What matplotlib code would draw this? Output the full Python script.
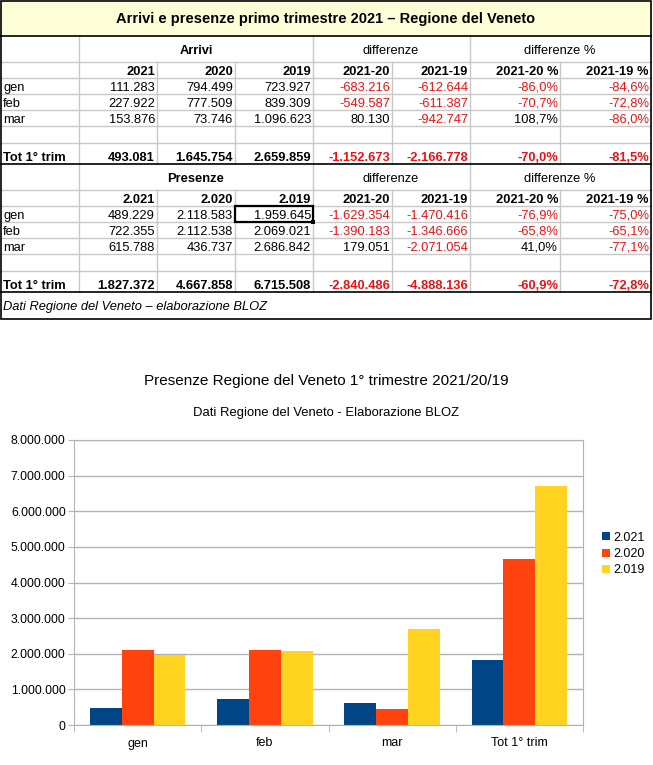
import numpy as np
import matplotlib; matplotlib.use("Agg")
import matplotlib.pyplot as plt
from matplotlib.ticker import FuncFormatter
from matplotlib.patches import Rectangle

plt.rcParams['font.family'] = ['Liberation Sans', 'DejaVu Sans']

months = ["gen", "feb", "mar"]
arr_2021 = [111283, 227922, 153876, 493081]
arr_2020 = [794499, 777509, 73746, 1645754]
arr_2019 = [723927, 839309, 1096623, 2659859]
arr_d20 = [-683216, -549587, 80130, -1152673]
arr_d19 = [-612644, -611387, -942747, -2166778]
arr_p20 = [-86.0, -70.7, 108.7, -70.0]
arr_p19 = [-84.6, -72.8, -86.0, -81.5]

pre_2021 = [489229, 722355, 615788, 1827372]
pre_2020 = [2118583, 2112538, 436737, 4667858]
pre_2019 = [1959645, 2069021, 2686842, 6715508]
pre_d20 = [-1629354, -1390183, 179051, -2840486]
pre_d19 = [-1470416, -1346666, -2071054, -4888136]
pre_p20 = [-76.9, -65.8, 41.0, -60.9]
pre_p19 = [-75.0, -65.1, -77.1, -72.8]

chart_cats = ["gen", "feb", "mar", "Tot 1° trim"]
series_labels = ["2.021", "2.020", "2.019"]
series_colors = ["#004586", "#ff420e", "#ffd320"]

RED = "#f01010"

def fmt_int(v):
    return f"{v:,}".replace(",", ".")

def fmt_pct(p):
    return f"{p:.1f}%".replace(".", ",")

W, H = 653, 765
fig = plt.figure(figsize=(W / 100, H / 100), dpi=100)

# ---- table drawn in pixel coords ----
tab = fig.add_axes([0, 0, 1, 1])
tab.set_xlim(0, W); tab.set_ylim(H, 0); tab.axis("off")

cols = [1, 79, 157, 235, 313, 392, 470, 560, 651]
GRID = "#c8c8c8"
FS = 9.3

tab.add_patch(Rectangle((1, 1), 650, 35, fc="#ffffd7", ec="none"))
tab.text(326, 19, "Arrivi e presenze primo trimestre 2021 \u2013 Regione del Veneto",
         ha="center", va="center", fontsize=10.5, fontweight="bold")

def section(top, name, years, a, b, c, d20, d19, p20, p19):
    hdr_bot = top + 26
    rows = [hdr_bot, hdr_bot + 16, hdr_bot + 32, hdr_bot + 48, hdr_bot + 64, hdr_bot + 81, hdr_bot + 102]
    # grid
    for y in rows[:-1]:
        tab.plot([1, 651], [y, y], color=GRID, lw=1, zorder=1)
    for x in [79, 313, 470]:
        tab.plot([x, x], [top, hdr_bot], color=GRID, lw=1, zorder=1)
    for x in cols[1:-1]:
        tab.plot([x, x], [hdr_bot, rows[-1]], color=GRID, lw=1, zorder=1)
    tab.plot([1, 651], [rows[-1], rows[-1]], color="black", lw=1.2, zorder=2)
    # headers
    tab.text(196, hdr_bot - 8, name, ha="center", va="baseline", fontsize=FS, fontweight="bold")
    tab.text(391, hdr_bot - 8, "differenze", ha="center", va="baseline", fontsize=FS)
    tab.text(560, hdr_bot - 8, "differenze %", ha="center", va="baseline", fontsize=FS)
    heads = years + ["2021-20", "2021-19", "2021-20 %", "2021-19 %"]
    for j, h in enumerate(heads):
        tab.text(cols[j + 2] - 2, rows[1] - 3.5, h, ha="right", va="baseline",
                 fontsize=FS, fontweight="bold")
    # body
    body_rows = [rows[2], rows[3], rows[4], rows[6]]
    labels = months + ["Tot 1° trim"]
    for i in range(4):
        bold = i == 3
        fw = "bold" if bold else "normal"
        y = body_rows[i] - 3.5
        tab.text(3, y, labels[i], ha="left", va="baseline", fontsize=FS, fontweight=fw)
        vals = [fmt_int(a[i]), fmt_int(b[i]), fmt_int(c[i]), fmt_int(d20[i]),
                fmt_int(d19[i]), fmt_pct(p20[i]), fmt_pct(p19[i])]
        nums = [a[i], b[i], c[i], d20[i], d19[i], p20[i], p19[i]]
        for j, (s, n) in enumerate(zip(vals, nums)):
            tab.text(cols[j + 2] - 2, y, s, ha="right", va="baseline", fontsize=FS,
                     fontweight=fw, color=RED if n < 0 else "black")
    return rows[-1]

bot1 = section(36, "Arrivi", ["2021", "2020", "2019"],
               arr_2021, arr_2020, arr_2019, arr_d20, arr_d19, arr_p20, arr_p19)
bot2 = section(bot1, "Presenze", ["2.021", "2.020", "2.019"],
               pre_2021, pre_2020, pre_2019, pre_d20, pre_d19, pre_p20, pre_p19)

tab.plot([1, 651], [36, 36], color="black", lw=1.2, zorder=2)
tab.add_patch(Rectangle((1, 1), 650, 318, fc="none", ec="black", lw=1.2, zorder=3))
tab.text(3, 310, "Dati Regione del Veneto \u2013 elaborazione BLOZ",
         ha="left", va="baseline", fontsize=FS, style="italic")
# selected cell
tab.add_patch(Rectangle((235, 206), 78, 16, fc="none", ec="black", lw=1.6, zorder=4))
tab.add_patch(Rectangle((311, 220), 4, 4, fc="black", ec="none", zorder=5))

# ---- bar chart ----
fig.text(326 / W, 1 - 381 / H, "Presenze Regione del Veneto 1° trimestre 2021/20/19",
         ha="center", va="center", fontsize=11)
fig.text(326 / W, 1 - 413 / H, "Dati Regione del Veneto - Elaborazione BLOZ",
         ha="center", va="center", fontsize=9.4)

ax = fig.add_axes([74 / W, 1 - 725 / H, 509 / W, 285 / H])
x = np.arange(len(chart_cats))
for i, (vals, col, lab) in enumerate(zip([pre_2021, pre_2020, pre_2019], series_colors, series_labels)):
    ax.bar(x + (i - 1) * 0.25, vals, 0.25, color=col, label=lab, zorder=2)

ax.set_xlim(-0.5, 3.5)
ax.set_ylim(0, 8000000)
ax.set_yticks(range(0, 8000001, 1000000))
ax.yaxis.set_major_formatter(FuncFormatter(lambda v, p: fmt_int(int(v))))
ax.grid(axis="y", color="#b3b3b3", lw=1, zorder=0)
ax.set_xticks(x)
ax.set_xticklabels(chart_cats)
ax.set_xticks(np.arange(-0.5, 4, 1), minor=True)
ax.tick_params(axis="x", which="major", length=0, pad=9, labelsize=9)
ax.tick_params(axis="x", which="minor", length=5, color="#b3b3b3")
ax.tick_params(axis="y", length=4, color="#b3b3b3", labelsize=8.8, pad=2)
for s in ax.spines.values():
    s.set_color("#b3b3b3")

fig.legend(loc="center left", bbox_to_anchor=(596 / W, 1 - 554 / H), frameon=False,
           handlelength=0.6, handleheight=0.6, handletextpad=0.3, labelspacing=0.35,
           fontsize=9, borderpad=0)

fig.savefig("out.png", dpi=100)
